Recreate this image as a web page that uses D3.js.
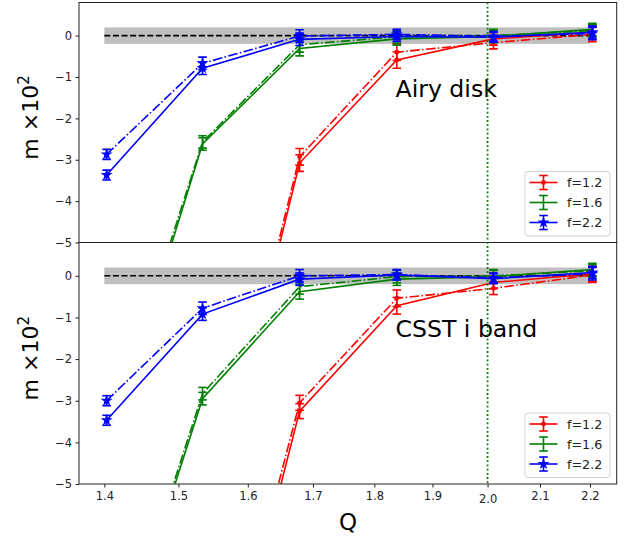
<!DOCTYPE html>
<html><head><meta charset="utf-8">
<script src="https://cdn.jsdelivr.net/npm/d3@7"></script>
<style>body{margin:0;background:#fff}svg{display:block;font-family:"DejaVu Sans",sans-serif}</style>
</head><body><svg id="c" width="628" height="537"></svg>
<script>
const Q = [1.403, 1.534, 1.679, 1.838, 2.011, 2.205];
const fLabels = ["f=1.2", "f=1.6", "f=2.2"];
const xTicks = [1.4, 1.5, 1.6, 1.7, 1.8, 1.9, 2.0, 2.1, 2.2];
const yTicks = [0, -1, -2, -3, -4, -5];
const panelTitles = ["Airy disk", "CSST i band"];

// Airy disk panel
const airyRedSolid   = [-25, -12.6, -3.08, -0.59, -0.08, 0.08];
const airyRedDash    = [-24, -12.4, -2.93, -0.40, -0.17, 0.03];
const airyGreenSolid = [-10.1, -2.62, -0.31, -0.08, -0.02, 0.15];
const airyGreenDash  = [-9.8, -2.57, -0.22, -0.03, 0.00, 0.12];
const airyBlueSolid  = [-3.37, -0.79, -0.09, -0.02, -0.04, 0.08];
const airyBlueDash   = [-2.87, -0.67, -0.01, 0.03, -0.02, 0.05];
const airyRedErr   = [0.2, 0.2, 0.2, 0.2, 0.15, 0.18];
const airyGreenErr = [0.2, 0.15, 0.18, 0.15, 0.15, 0.15];
const airyBlueErr  = [0.12, 0.15, 0.15, 0.12, 0.12, 0.15];

// CSST i band panel
const csstRedSolid   = [-25, -12.4, -3.25, -0.72, -0.16, 0.05];
const csstRedDash    = [-24, -12.0, -3.05, -0.54, -0.30, 0.02];
const csstGreenSolid = [-10.1, -2.95, -0.38, -0.08, -0.02, 0.15];
const csstGreenDash  = [-9.96, -2.83, -0.26, -0.02, 0.00, 0.12];
const csstBlueSolid  = [-3.47, -0.92, -0.08, 0.02, -0.07, 0.08];
const csstBlueDash   = [-3.00, -0.78, 0.00, 0.03, -0.05, 0.05];
const csstRedErr   = [0.2, 0.2, 0.18, 0.2, 0.15, 0.18];
const csstGreenErr = [0.2, 0.15, 0.18, 0.15, 0.15, 0.15];
const csstBlueErr  = [0.12, 0.15, 0.15, 0.12, 0.12, 0.15];

const colors = ["#ff0000", "#008000", "#0000ff"];
const markers = ["dot", "none", "star"];

const panels = [
  {title: panelTitles[0], top: 2.5, bottom: 242.5,
   series: [[airyRedSolid, airyRedDash, airyRedErr],[airyGreenSolid, airyGreenDash, airyGreenErr],[airyBlueSolid, airyBlueDash, airyBlueErr]]},
  {title: panelTitles[1], top: 242.5, bottom: 484,
   series: [[csstRedSolid, csstRedDash, csstRedErr],[csstGreenSolid, csstGreenDash, csstGreenErr],[csstBlueSolid, csstBlueDash, csstBlueErr]]}
];

const svg = d3.select("#c");
const x = d3.scaleLog().domain([1.3674, 2.2554]).range([79, 616.7]);
const L = 79, R = 616.7;

function drawMarker(g, type, cx, cy, col) {
  if (type === "dot") g.append("circle").attr("cx", cx).attr("cy", cy).attr("r", 2.4).attr("fill", col);
  else if (type === "star") g.append("path").attr("d", d3.symbol(d3.symbolStar, 45)()).attr("transform", `translate(${cx},${cy})`).attr("fill", col);
}

panels.forEach((p, pi) => {
  const y = d3.scaleLinear().domain([-5, 0.8]).range([p.bottom, p.top]);
  const cid = "clip" + pi;
  svg.append("clipPath").attr("id", cid).append("rect").attr("x", L).attr("y", p.top).attr("width", R - L).attr("height", p.bottom - p.top);
  const g = svg.append("g").attr("clip-path", `url(#${cid})`);

  // grey band and zero line
  g.append("rect").attr("x", x(1.4)).attr("width", x(2.2) - x(1.4)).attr("y", y(0.2)).attr("height", y(-0.2) - y(0.2)).attr("fill", "#bfbfbf");
  g.append("line").attr("x1", x(1.4)).attr("x2", x(2.2)).attr("y1", y(0)).attr("y2", y(0)).attr("stroke", "#000").attr("stroke-width", 1.6).attr("stroke-dasharray", "6,2.6");

  const line = d3.line().x((d, i) => x(Q[i])).y(d => y(d));
  p.series.forEach((s, si) => {
    const col = colors[si];
    [[s[0], null], [s[1], "9.6,2.4,1.5,2.4"]].forEach(([vals, dash]) => {
      const pth = g.append("path").attr("d", line(vals)).attr("fill", "none").attr("stroke", col).attr("stroke-width", 1.6);
      if (dash) pth.attr("stroke-dasharray", dash);
      vals.forEach((v, i) => {
        const e = s[2][i], cx = x(Q[i]);
        g.append("line").attr("x1", cx).attr("x2", cx).attr("y1", y(v - e)).attr("y2", y(v + e)).attr("stroke", col).attr("stroke-width", 1.6);
        [v - e, v + e].forEach(c => g.append("line").attr("x1", cx - 4.3).attr("x2", cx + 4.3).attr("y1", y(c)).attr("y2", y(c)).attr("stroke", col).attr("stroke-width", 1.6));
        drawMarker(g, markers[si], cx, y(v), col);
      });
    });
  });

  // title
  svg.append("text").attr("x", 395.5).attr("y", p.top + 94.5).attr("font-size", 23.6).attr("fill", "#000").text(p.title);

  // frame
  svg.append("rect").attr("x", L).attr("y", p.top).attr("width", R - L).attr("height", p.bottom - p.top).attr("fill", "none").attr("stroke", "#222").attr("stroke-width", 1);

  // y axis
  const ya = svg.append("g").attr("transform", `translate(${L},0)`).call(d3.axisLeft(y).tickValues(yTicks).tickSize(3.5).tickPadding(3.5).tickFormat(d => d3.format("d")(d).replace("-", "\u2212")));
  ya.select(".domain").remove();
  ya.selectAll("line").attr("stroke", "#222");
  ya.selectAll("text").attr("font-size", 11.5).attr("fill", "#222").attr("font-family", "DejaVu Sans");

  // y label
  const yl = svg.append("text").attr("transform", `translate(38,${(p.top + p.bottom) / 2 - 5}) rotate(-90)`).attr("text-anchor", "middle").attr("font-size", 22).attr("fill", "#000");
  yl.append("tspan").text("m \u00d710");
  yl.append("tspan").attr("font-size", 15).attr("dy", -9).text("2");

  // legend
  const lg = svg.append("g").attr("transform", `translate(0,${p.bottom - 71})`);
  lg.append("rect").attr("x", 525).attr("y", 0).attr("width", 85).attr("height", 64.5).attr("rx", 3).attr("fill", "#fff").attr("fill-opacity", 0.8).attr("stroke", "#d0d0d0");
  fLabels.forEach((t, i) => {
    const ly = 11 + i * 20, col = colors[i];
    lg.append("line").attr("x1", 529.5).attr("x2", 557.5).attr("y1", ly).attr("y2", ly).attr("stroke", col).attr("stroke-width", 1.6);
    lg.append("line").attr("x1", 543.5).attr("x2", 543.5).attr("y1", ly - 7).attr("y2", ly + 7).attr("stroke", col).attr("stroke-width", 1.6);
    [ly - 7, ly + 7].forEach(c => lg.append("line").attr("x1", 539.2).attr("x2", 547.8).attr("y1", c).attr("y2", c).attr("stroke", col).attr("stroke-width", 1.6));
    drawMarker(lg, markers[i], 543.5, ly, col);
    lg.append("text").attr("x", 567).attr("y", ly + 4.5).attr("font-size", 12.7).attr("fill", "#222").text(t);
  });
});

// vertical dotted line at Q = 2.0
svg.append("line").attr("x1", x(2.0)).attr("x2", x(2.0)).attr("y1", 2.5).attr("y2", 484).attr("stroke", "#008000").attr("stroke-width", 1.8).attr("stroke-dasharray", "1.8,2.4");

// x axis
const xa = svg.append("g").attr("transform", "translate(0,484)").call(d3.axisBottom(x).tickValues(xTicks).tickSize(3.5).tickPadding(4).tickFormat(d3.format(".1f")));
xa.select(".domain").remove();
xa.selectAll("line").attr("stroke", "#222");
xa.selectAll("text").attr("font-size", 11.5).attr("fill", "#222").attr("font-family", "DejaVu Sans")
  .attr("dy", d => d === 2.0 ? "1.0em" : "0.71em");
svg.append("text").attr("x", 348).attr("y", 530).attr("text-anchor", "middle").attr("font-size", 23).attr("fill", "#000").text("Q");
</script></body></html>
